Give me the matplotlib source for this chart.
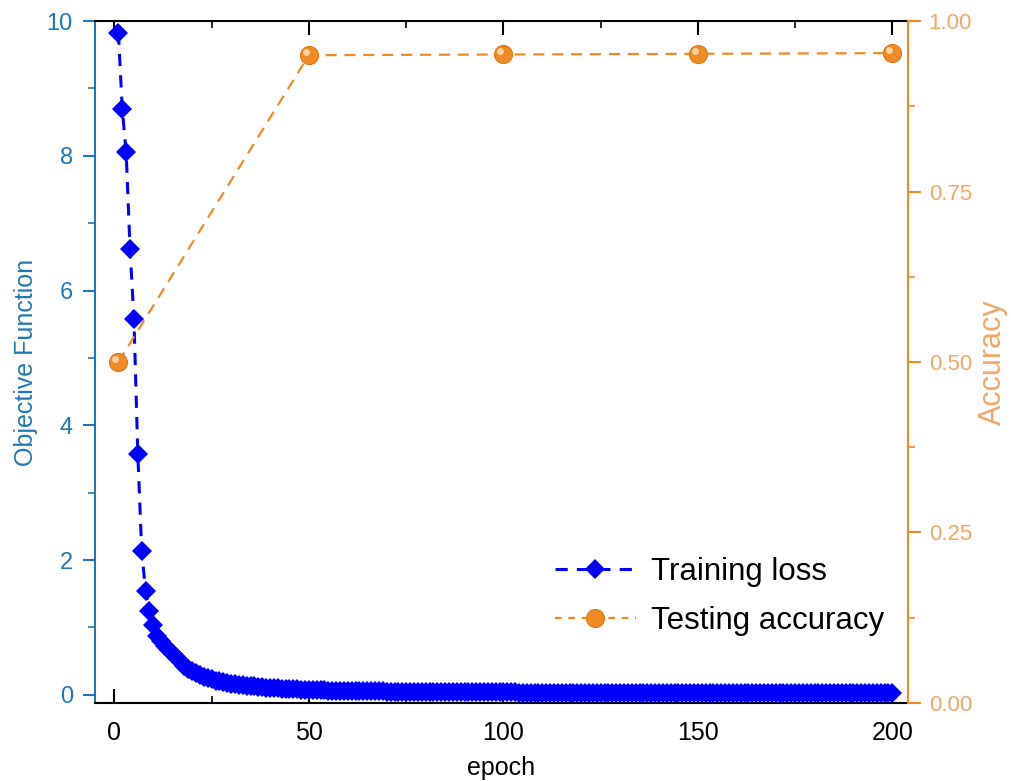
import matplotlib
matplotlib.use("Agg")
import matplotlib.pyplot as plt
from matplotlib.ticker import MultipleLocator
from matplotlib.transforms import ScaledTranslation
from matplotlib.lines import Line2D

plt.rcParams['font.family'] = ['Liberation Sans', 'DejaVu Sans']

# training loss per epoch (1..200)
loss_epochs = list(range(1, 201))
loss_values = [
    9.83, 8.70, 8.05, 6.62, 5.58, 3.58, 2.13, 1.54, 1.25, 1.03,
    0.88, 0.80, 0.73, 0.66, 0.60, 0.54, 0.48, 0.43, 0.39, 0.35,
    0.32, 0.29, 0.27, 0.25, 0.23, 0.21, 0.20, 0.185, 0.175, 0.165,
    0.156, 0.148, 0.141, 0.135, 0.129, 0.124, 0.119, 0.113, 0.108, 0.104,
    0.100, 0.097, 0.093, 0.090, 0.087, 0.084, 0.081, 0.078, 0.075, 0.072,
    0.070, 0.068, 0.067, 0.065, 0.064, 0.062, 0.061, 0.060, 0.059, 0.058,
    0.057, 0.056, 0.055, 0.054, 0.053, 0.052, 0.051, 0.050, 0.050, 0.049,
    0.048, 0.047, 0.047, 0.046, 0.045, 0.045, 0.044, 0.044, 0.043, 0.043,
    0.042, 0.042, 0.041, 0.041, 0.040, 0.040, 0.039, 0.039, 0.039, 0.038,
    0.038, 0.038, 0.037, 0.037, 0.037, 0.036, 0.036, 0.036, 0.036, 0.035,
    0.035, 0.035, 0.035, 0.034, 0.034, 0.034, 0.034, 0.033, 0.033, 0.033,
    0.033, 0.033, 0.032, 0.032, 0.032, 0.032, 0.032, 0.031, 0.031, 0.031,
    0.031, 0.031, 0.030, 0.030, 0.030, 0.030, 0.030, 0.030, 0.029, 0.029,
    0.029, 0.029, 0.029, 0.029, 0.028, 0.028, 0.028, 0.028, 0.028, 0.028,
    0.027, 0.027, 0.027, 0.027, 0.027, 0.027, 0.026, 0.026, 0.026, 0.026,
    0.026, 0.026, 0.026, 0.025, 0.025, 0.025, 0.025, 0.025, 0.025, 0.025,
    0.024, 0.024, 0.024, 0.024, 0.024, 0.024, 0.024, 0.023, 0.023, 0.023,
    0.023, 0.023, 0.023, 0.023, 0.023, 0.022, 0.022, 0.022, 0.022, 0.022,
    0.022, 0.022, 0.022, 0.021, 0.021, 0.021, 0.021, 0.021, 0.021, 0.021,
    0.021, 0.020, 0.020, 0.020, 0.020, 0.020, 0.020, 0.020, 0.020, 0.020,
]

# testing accuracy
acc_epochs = [1, 50, 100, 150, 200]
acc_values = [0.50, 0.950, 0.951, 0.952, 0.953]

BLUE = "#0000ff"
LEFT_C = "#1f78b4"
ORANGE = "#f08a24"
ORANGE_TXT = "#f0a868"

fig = plt.figure(figsize=(10.11, 7.81), dpi=100)
ax = fig.add_axes([0.094, 0.100, 0.804, 0.873])
ax2 = ax.twinx()

# loss curve
ax.plot(loss_epochs, loss_values, color=BLUE, lw=2.2, ls=(0, (4, 3)),
        marker='D', markersize=10.5, markeredgewidth=0, zorder=3)

# accuracy curve with glossy ball markers
ax2.plot(acc_epochs, acc_values, color=ORANGE, lw=1.6, ls=(0, (5, 3.5)),
         marker='o', markersize=13, markerfacecolor=ORANGE,
         markeredgecolor="#e07810", markeredgewidth=0.8, zorder=3)
shine = ax2.transData + ScaledTranslation(-2.2 / 72, 2.2 / 72, fig.dpi_scale_trans)
ax2.plot(acc_epochs, acc_values, ls='none', marker='o', markersize=5,
         markerfacecolor="#ffd9b0", markeredgewidth=0, alpha=0.9,
         transform=shine, zorder=4)

ax.set_xlim(-5, 204)
ax.set_ylim(-0.12, 10)
ax2.set_ylim(0, 1)

ax.xaxis.set_major_locator(MultipleLocator(50))
ax.xaxis.set_minor_locator(MultipleLocator(25))
ax.yaxis.set_major_locator(MultipleLocator(2))
ax.yaxis.set_minor_locator(MultipleLocator(1))
ax2.yaxis.set_major_locator(MultipleLocator(0.25))
ax2.yaxis.set_minor_locator(MultipleLocator(0.125))

# spines
for s in ('top', 'bottom'):
    ax.spines[s].set_color('black')
    ax.spines[s].set_linewidth(1.5)
ax.spines['left'].set_color(LEFT_C)
ax.spines['left'].set_linewidth(1.5)
ax.spines['right'].set_visible(False)
ax2.spines['left'].set_visible(False)
ax2.spines['top'].set_visible(False)
ax2.spines['bottom'].set_visible(False)
ax2.spines['right'].set_color(ORANGE)
ax2.spines['right'].set_linewidth(1.5)

ax.tick_params(axis='x', which='major', direction='in', length=10, width=1.5,
               top=True, colors='black', labelsize=18, pad=13)
ax.tick_params(axis='x', which='minor', direction='in', length=5, width=1.2, top=True)
ax.tick_params(axis='y', which='major', direction='out', length=9, width=1.5,
               colors=LEFT_C, labelsize=17, pad=7)
ax.tick_params(axis='y', which='minor', direction='out', length=5, width=1.2, colors=LEFT_C)
ax2.tick_params(axis='y', which='major', direction='out', length=9, width=1.5,
                colors=ORANGE, labelcolor=ORANGE_TXT, labelsize=16, pad=6)
ax2.tick_params(axis='y', which='minor', direction='out', length=5, width=1.2, colors=ORANGE)
ax2.yaxis.set_major_formatter(plt.FuncFormatter(lambda v, p: f"{v:.2f}"))

ax.set_xlabel("epoch", fontsize=18, labelpad=8)
ax.set_ylabel("Objective Function", fontsize=18, color=LEFT_C, labelpad=6)
ax2.set_ylabel("Accuracy", fontsize=22, color=ORANGE_TXT, labelpad=4)

handles = [
    Line2D([], [], color=BLUE, lw=2.2, ls=(0, (4, 3)), marker='D', markersize=10,
           markeredgewidth=0),
    Line2D([], [], color=ORANGE, lw=1.6, ls=(0, (3, 3)), marker='o', markersize=13,
           markerfacecolor=ORANGE, markeredgecolor="#e07810", markeredgewidth=0.8),
]
ax2.legend(handles, ["Training loss", "Testing accuracy"], loc='lower right',
           bbox_to_anchor=(1.006, 0.057), frameon=False, fontsize=22.5,
           handlelength=2.6, handletextpad=0.5, labelspacing=0.6)

fig.savefig("out.png", dpi=100, facecolor='white')
